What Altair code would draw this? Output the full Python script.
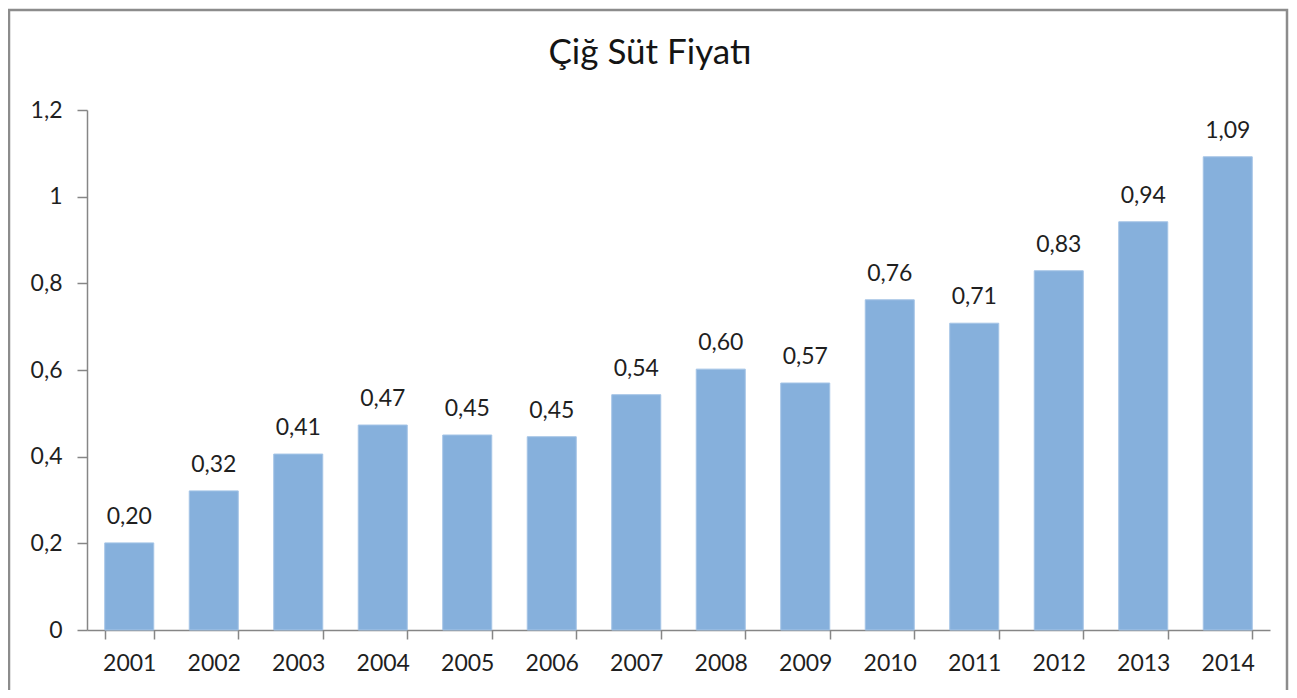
import altair as alt
import pandas as pd

years = ["2001", "2002", "2003", "2004", "2005", "2006", "2007",
         "2008", "2009", "2010", "2011", "2012", "2013", "2014"]
prices = [0.201, 0.321, 0.406, 0.473, 0.450, 0.446, 0.543,
          0.602, 0.570, 0.762, 0.708, 0.829, 0.942, 1.092]
y_ticks = [0, 0.2, 0.4, 0.6, 0.8, 1.0, 1.2]
title_text = ["Çiğ Süt Fiyatı"]

df = pd.DataFrame({"Yıl": years, "Fiyat": prices})

FONT = "Lato"
GRAY = "#868686"
TXT = "#1f1f1f"
W, H = 1183, 520

base = alt.Chart(df).transform_calculate(
    lbl="replace(format(datum.Fiyat, '.2f'), '.', ',')"
)

x_enc = alt.X(
    "Yıl:N",
    sort=years,
    title=None,
    scale=alt.Scale(paddingInner=0.42, paddingOuter=0.21),
    axis=alt.Axis(
        labelAngle=0, tickBand="extent", tickSize=9, labelPadding=13,
        domainColor=GRAY, tickColor=GRAY, labelColor=TXT,
        labelFont=FONT, labelFontSize=23, domainWidth=1.5, tickWidth=1.5,
    ),
)
y_enc = alt.Y(
    "Fiyat:Q",
    title=None,
    scale=alt.Scale(domain=[0, 1.2], nice=False),
    axis=alt.Axis(
        values=y_ticks, grid=False, tickSize=10, labelPadding=15,
        domainColor=GRAY, tickColor=GRAY, labelColor=TXT,
        labelFont=FONT, labelFontSize=23, domainWidth=1.5, tickWidth=1.5,
        labelExpr="replace(format(datum.value, '~g'), '.', ',')",
    ),
)

bars = base.mark_bar(color="#86B0DC", stroke="#A4C4E6", strokeWidth=1).encode(
    x=x_enc, y=y_enc
)
texts = base.mark_text(
    baseline="bottom", dy=-14, font=FONT, fontSize=23, color=TXT
).encode(x=alt.X("Yıl:N", sort=years), y="Fiyat:Q", text="lbl:N")

title = alt.Chart(pd.DataFrame({"t": title_text})).mark_text(
    font=FONT, fontSize=35, color="#141414", baseline="middle", align="center"
).encode(x=alt.value(563), y=alt.value(-57), text="t:N")

border = alt.Chart(pd.DataFrame({"k": [0]})).mark_rect(
    fillOpacity=0, stroke="#8C8C8C", strokeWidth=2.5
).encode(
    x=alt.value(-78), x2=alt.value(1200),
    y=alt.value(-100), y2=alt.value(700),
)

chart = alt.layer(border, bars, texts, title).properties(
    width=W,
    height=H,
    autosize=alt.AutoSizeParams(type="none"),
    padding={"left": 79, "top": 102, "right": 19, "bottom": 60},
).configure_view(stroke=None)

chart.save("out.html", embed_options={"renderer": "svg", "actions": False})
